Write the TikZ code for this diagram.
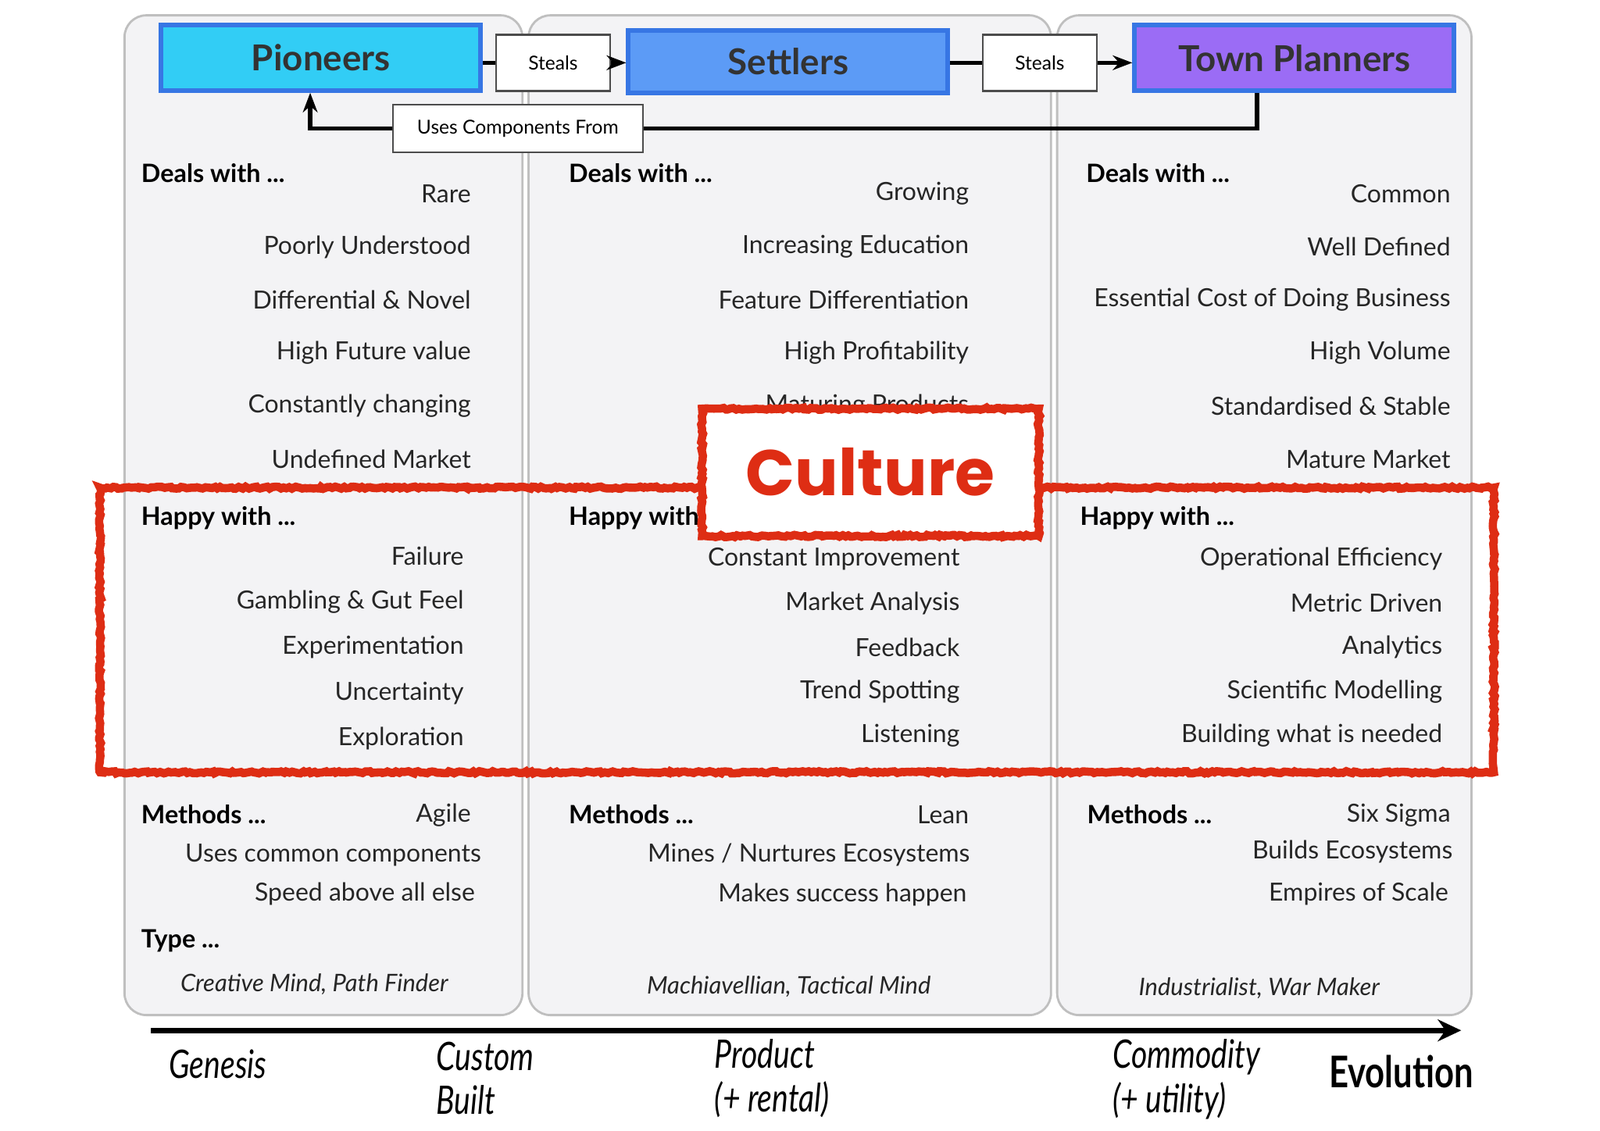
\documentclass[tikz,border=0pt]{standalone}
\usepackage{fontspec}
\setmainfont{Lato}
\newfontfamily\axisfont{Lato}[FakeStretch=0.78]
\newfontfamily\culturefont{Poppins}
\usepackage{tikz}
\usetikzlibrary{arrows.meta,positioning,decorations.pathmorphing}
\definecolor{pioneercyan}{RGB}{50,205,245}
\definecolor{settlerblue}{RGB}{92,155,246}
\definecolor{plannerpurple}{RGB}{155,108,245}
\definecolor{roleborder}{RGB}{55,118,228}
\definecolor{culturered}{RGB}{222,45,20}
\definecolor{panelgray}{RGB}{243,243,245}

\begin{document}
\begin{tikzpicture}[
    x=0.013061cm, y=-0.013061cm,
    column/.style={draw=gray!50, fill=panelgray, rounded corners=0.28cm, line width=0.8pt},
    role/.style={draw=roleborder, line width=1.7pt, minimum width=4.09cm, minimum height=0.84cm, font=\fontsize{13}{15}\selectfont\bfseries, text=black!80},
    tag/.style={draw=black!70, fill=white, line width=0.7pt, font=\fontsize{7}{8}\selectfont, minimum height=0.72cm},
    conn/.style={line width=1.6pt, black},
    head/.style={anchor=west, inner sep=0pt, font=\fontsize{9.2}{11}\selectfont\bfseries},
    item/.style={anchor=east, inner sep=0pt, font=\fontsize{9.1}{11}\selectfont, text=black!85},
    kind/.style={inner sep=0pt, font=\fontsize{8.8}{11}\selectfont\itshape, text=black!85},
    stage/.style={anchor=west, inner sep=0pt, align=left, font=\axisfont\fontsize{14.3}{16}\selectfont\itshape},
    rough/.style={draw=culturered, line width=3pt, decorate, decoration={random steps, segment length=1pt, amplitude=0.4pt}}
]
    \useasboundingbox (0,0) rectangle (1568,1108);

    % Column panels
    \draw[column] (122,15) rectangle (512,995);
    \draw[column] (518,15) rectangle (1030,995);
    \draw[column] (1036,15) rectangle (1442,995);

    % Roles
    \node[role, fill=pioneercyan] (pion) at (314.5,56.5) {Pioneers};
    \node[role, fill=settlerblue, minimum height=0.8cm] (sett) at (772.5,60.5) {Settlers};
    \node[role, fill=plannerpurple] (plan) at (1268.5,57) {Town Planners};

    \node[tag, minimum width=1.46cm] (steal1) at (542,61.5) {Steals};
    \node[tag, minimum width=1.46cm] (steal2) at (1019,61.5) {Steals};
    \node[tag, minimum width=3.2cm, minimum height=0.61cm] (uses) at (507.5,126) {Uses Components From};

    % Connectors
    \coordinate (tpdrop) at (1232,126);
    \coordinate (pdrop) at (304,126);
    \draw[conn] (steal1.west -| pion.east) -- (steal1.west);
    \draw[conn, -{Stealth[length=2.5mm]}] (steal1.east) -- (steal1.east -| sett.west);
    \draw[conn] (steal2.west -| sett.east) -- (steal2.west);
    \draw[conn, -{Stealth[length=2.5mm]}] (steal2.east) -- (steal2.east -| plan.west);
    \draw[conn] (plan.south -| tpdrop) -- (tpdrop) -- (uses.east);
    \draw[conn, -{Stealth[length=2.5mm]}] (uses.west) -| (pion.south -| pdrop);

    % Pioneers column
    \node[head] (pdeals) at (138,170) {Deals with ...};
    \foreach \t [count=\i] in {Rare, Poorly Understood, Differential \& Novel, High Future value, Constantly changing, Undefined Market}
        \node[item] (pdeal\i) at (462,{138+52*\i}) {\t};
    \node[head] (phappy) at (138,508) {Happy with ...};
    \foreach \t [count=\i] in {Failure, Gambling \& Gut Feel, Experimentation, Uncertainty, Exploration}
        \node[item] (phap\i) at (455,{500.25+44.75*\i}) {\t};
    \node[head] (pmeth) at (138,798) {Methods ...};
    \node[item] (pagile) at (462,799) {Agile};
    \node[item] (pcommon) at (472,838) {Uses common components};
    \node[item] (pspeed) at (466,876) {Speed above all else};
    \node[head] (ptype) at (138,922) {Type ...};
    \node[kind] (pkind) at (308,965) {Creative Mind, Path Finder};

    % Settlers column
    \node[head] (sdeals) at (557,170) {Deals with ...};
    \foreach \t [count=\i] in {Growing, Increasing Education, Feature Differentiation, High Profitability, Maturing Products}
        \node[item] (sdeal\i) at (950,{138+52*\i}) {\t};
    \node[head] (shappy) at (557,508) {Happy with ...};
    \foreach \t [count=\i] in {Constant Improvement, Market Analysis, Feedback, Trend Spotting, Listening}
        \node[item] (shap\i) at (941,{504.75+43.25*\i}) {\t};
    \node[head] (smeth) at (557,798) {Methods ...};
    \node[item] (slean) at (950,799) {Lean};
    \node[item] (smines) at (951,838) {Mines / Nurtures Ecosystems};
    \node[item] (ssuccess) at (948,877) {Makes success happen};
    \node[kind] (skind) at (773,967) {Machiavellian, Tactical Mind};

    % Town planners column
    \node[head] (tdeals) at (1064,170) {Deals with ...};
    \foreach \t [count=\i] in {Common, Well Defined, Essential Cost of Doing Business, High Volume, Standardised \& Stable, Mature Market}
        \node[item] (tdeal\i) at (1422,{138+52*\i}) {\t};
    \node[head] (thappy) at (1058,508) {Happy with ...};
    \foreach \t [count=\i] in {Operational Efficiency, Metric Driven, Analytics, Scientific Modelling, Building what is needed}
        \node[item] (thap\i) at (1414,{504.75+43.25*\i}) {\t};
    \node[head] (tmeth) at (1065,798) {Methods ...};
    \node[item] (tsix) at (1422,799) {Six Sigma};
    \node[item] (tbuilds) at (1424,835) {Builds Ecosystems};
    \node[item] (tempires) at (1420,876) {Empires of Scale};
    \node[kind] (tkind) at (1234,969) {Industrialist, War Maker};

    % Culture highlight
    \draw[rough] (98,478) rectangle (1464,757);
    \node[rough, fill=white, minimum width=4.31cm, minimum height=1.63cm, text=culturered,
          font=\culturefont\fontsize{23.5}{26}\selectfont\bfseries] (culture) at (853,463) {Culture};

    % Evolution axis
    \coordinate (axstart) at (148,1010);
    \coordinate (axend) at (1432,1010);
    \draw[line width=1.9pt, -{Stealth[length=3mm, width=2.8mm]}] (axstart) -- (axend);
    \node[stage] (genesis) at (165,1043) {Genesis};
    \node[stage] (custom) at (427,1057) {Custom\\Built};
    \node[stage] (product) at (700,1057) {Product\\(+ rental)};
    \node[stage] (commodity) at (1090,1058) {Commodity\\(+ utility)};
    \node[stage, font=\axisfont\fontsize{15.9}{18}\selectfont\bfseries] (evolution) at (1302,1050) {Evolution};
\end{tikzpicture}
\end{document}
